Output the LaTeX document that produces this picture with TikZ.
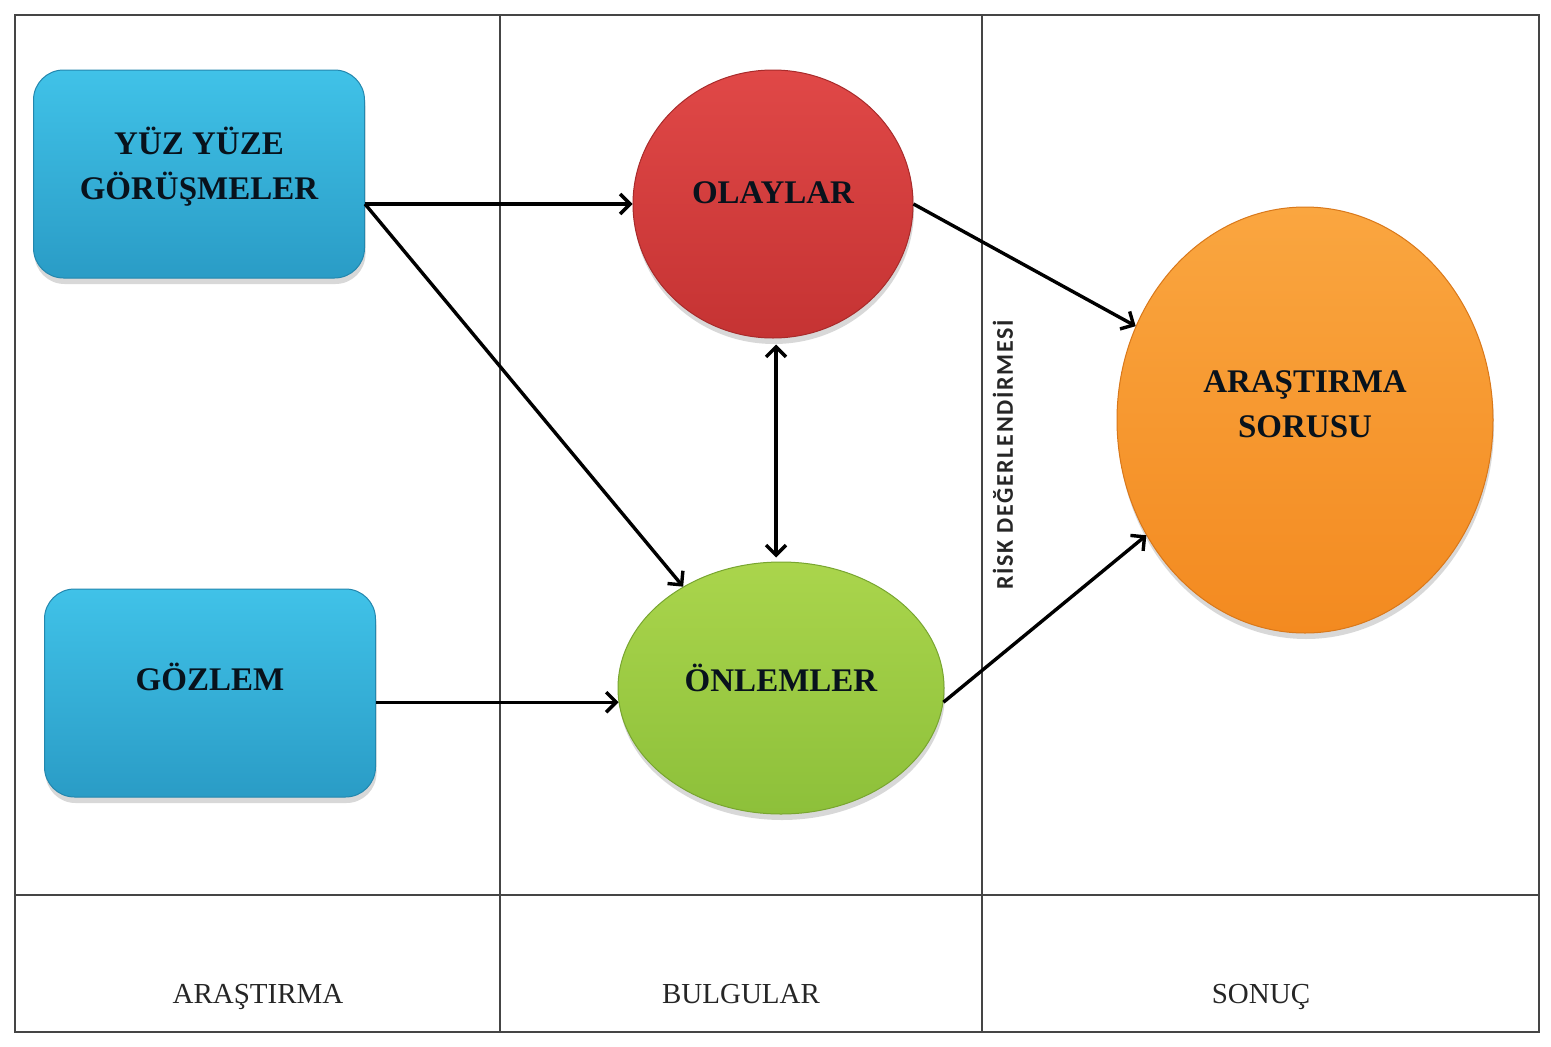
\documentclass[tikz,border=0pt]{standalone}
\usepackage{fontspec}
\setmainfont{Liberation Serif}
\newfontfamily\riskfont[LetterSpace=7]{Carlito}
\usetikzlibrary{shapes.geometric,arrows.meta,shadows,calc}
\definecolor{gridc}{HTML}{454545}
\definecolor{labelc}{HTML}{08121C}
\definecolor{blueT}{HTML}{40C2E8}
\definecolor{blueB}{HTML}{2A9CC6}
\definecolor{blueD}{HTML}{2387AE}
\definecolor{redT}{HTML}{E04847}
\definecolor{redB}{HTML}{C53333}
\definecolor{redD}{HTML}{A82B2B}
\definecolor{greenT}{HTML}{AAD54C}
\definecolor{greenB}{HTML}{8DC03A}
\definecolor{greenD}{HTML}{78A530}
\definecolor{orT}{HTML}{FAA640}
\definecolor{orB}{HTML}{F38A20}
\definecolor{orD}{HTML}{D9781A}
\begin{document}
\begin{tikzpicture}[x=1pt,y=-1pt,
  >={Straight Barb[length=10pt,width=20pt]},
  gridline/.style={draw=gridc,line width=1.6pt},
  shad/.style={drop shadow={opacity=0.3,shadow xshift=1pt,shadow yshift=-6pt}},
  lbl/.style={font=\fontsize{33}{45}\selectfont\bfseries,text=labelc,align=center,inner sep=0pt},
  boxnode/.style={shad,rectangle,rounded corners=30pt,minimum width=331pt,minimum height=208pt,
    top color=blueT,bottom color=blueB,draw=blueD,line width=1pt},
  ovalnode/.style={shad,ellipse,line width=1pt},
  colhead/.style={font=\fontsize{29}{34}\selectfont,text=black!85,anchor=base,inner sep=0pt},
  conn/.style={line width=3.4pt,draw=black,->},
]
\useasboundingbox (0,0) rectangle (1551,1047);
\fill[white] (0,0) rectangle (1551,1047);
% table
\draw[gridline] (15,15) rectangle (1539,1032);
\draw[gridline] (15,895) -- (1539,895);
\draw[gridline] (500,15) -- (500,1032);
\draw[gridline] (982,15) -- (982,1032);
\node[colhead] (h1) at (258,1003) {ARAŞTIRMA};
\node[colhead] (h2) at (741,1003) {BULGULAR};
\node[colhead] (h3) at (1261,1003) {SONUÇ};
% shapes
\node[boxnode] (yuz) at (199,174) {};
\node[boxnode] (goz) at (210,693) {};
\node[ovalnode,minimum width=280pt,minimum height=268pt,top color=redT,bottom color=redB,draw=redD] (ola) at (773,204) {};
\node[ovalnode,minimum width=326pt,minimum height=252pt,top color=greenT,bottom color=greenB,draw=greenD] (onl) at (781,688) {};
\node[ovalnode,minimum width=376pt,minimum height=426pt,top color=orT,bottom color=orB,draw=orD] (sor) at (1305,420) {};
% labels
\node[lbl] (yuzt) at ($(yuz.center)+(0,-7)$) {YÜZ YÜZE\\GÖRÜŞMELER};
\node[lbl] (gozt) at ($(goz.center)+(0,-16)$) {GÖZLEM};
\node[lbl] (olat) at ($(ola.center)+(0,-11)$) {OLAYLAR};
\node[lbl] (onlt) at ($(onl.center)+(0,-10)$) {ÖNLEMLER};
\node[lbl] (sort) at ($(sor.center)+(0,-16)$) {ARAŞTIRMA\\SORUSU};
\node[rotate=90,font=\riskfont\bfseries\fontsize{24}{28}\selectfont,text=black!85,inner sep=0pt] (risk) at (1003,455) {RİSK DEĞERLENDİRMESİ};
% connectors
\draw[conn] (yuz.east |- ola.west) -- (ola.west);
\draw[conn] (yuz.east |- ola.west) -- (onl.134);
\draw[conn,<->] ($(ola.south)+(3,6)$) -- ($(ola.south |- onl.north)+(3,-4)$);
\draw[conn] (ola.east) -- (sor.151);
\draw[conn] (goz.east |- onl.185) -- (onl.185);
\draw[conn] (onl.-5) -- (sor.216);
\end{tikzpicture}
\end{document}
